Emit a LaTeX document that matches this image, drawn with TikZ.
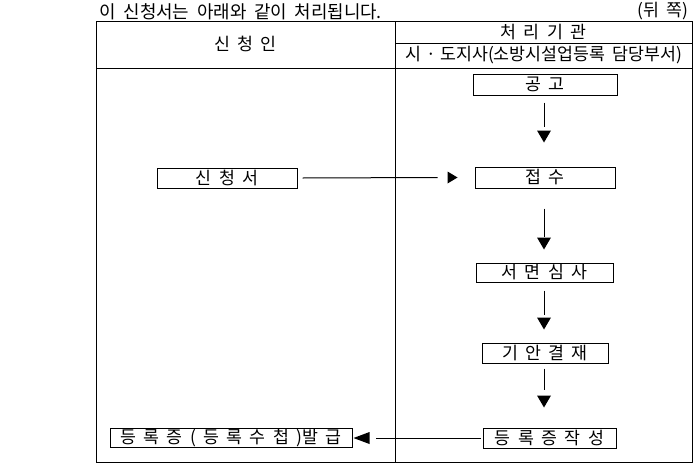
\documentclass[tikz,border=0pt]{standalone}
\usepackage{fontspec}
\setmainfont{Noto Sans CJK KR}[WordSpace=1.9]
\usetikzlibrary{calc}
\begin{document}
\begin{tikzpicture}[x=1pt,y=-1pt,line width=1pt,
  box/.style={draw,inner sep=0pt,minimum height=20pt,font=\fontsize{17.3}{19}\selectfont},
  txt/.style={inner sep=0pt,font=\fontsize{17.3}{19}\selectfont},
  conn/.style={line width=1pt},
  head/.style={fill=black,draw=none}]
\useasboundingbox (0,0) rectangle (695,463);
% table frame
\draw (96,21) rectangle (692,462);
\draw (96,68) -- (692,68);
\draw (395,43) -- (692,43);
\draw (395,21) -- (395,462);
% top texts
\node[txt,anchor=west,font=\fontsize{17.9}{19}\selectfont] (title) at (99,12) {이 신청서는 아래와 같이 처리됩니다.};
\node[txt,anchor=east,font=\fontsize{17.3}{19}\selectfont] (page) at (689,11) {(뒤 쪽)};
% headers
\node[txt] (h1) at (245.5,44) {신 청 인};
\node[txt] (h2) at (543.5,32) {처 리 기 관};
\node[txt] (h3) at (544,55) {시\hspace{4.5pt}·\hspace{4.5pt}도지사(소방시설업등록 담당부서)};
% boxes
\node[box,minimum width=144pt,minimum height=21pt] (gonggo) at (545,84.5) {공 고};
\node[box,minimum width=140pt,minimum height=21pt] (jeopsu) at (545,177.5) {접 수};
\node[box,minimum width=137pt,minimum height=19pt] (seomyeon) at (544.5,272.5) {서 면 심 사};
\node[box,minimum width=126pt] (gian) at (545,353) {기 안 결 재};
\node[box,minimum width=133pt] (jakseong) at (549.5,438) {등 록 증 작 성};
\node[box,minimum width=140pt] (sincheong) at (227,178) {신 청 서};
\node[box,minimum width=242pt,minimum height=19pt] (balgeup) at (231,438) {등 록 증 ( 등 록 수 첩 )발 급};
% vertical arrows
\draw[conn] ($(gonggo.south)+(-1,7)$) -- ($(jeopsu.north)+(-1,-40)$);
\fill[head] ($(jeopsu.north)+(-8,-36)$) -- ++(14,0) -- ++(-7,12) -- cycle;
\draw[conn] ($(jeopsu.south)+(-1,20)$) -- ($(seomyeon.north)+(-0.5,-26)$);
\fill[head] ($(seomyeon.north)+(-7.5,-25)$) -- ++(14,0) -- ++(-7,12) -- cycle;
\draw[conn] ($(seomyeon.south)+(-0.5,8)$) -- ($(gian.north)+(-1,-28)$);
\fill[head] ($(gian.north)+(-8,-25)$) -- ++(14,0) -- ++(-7,12) -- cycle;
\draw[conn] ($(gian.south)+(-1,5)$) -- ($(jakseong.north)+(-5.5,-38)$);
\fill[head] ($(jakseong.north)+(-12.5,-32)$) -- ++(14,0) -- ++(-7,12) -- cycle;
% horizontal arrows
\draw[conn] ($(sincheong.east)+(5,0)$) -- ($(jeopsu.west)+(-37,0)$);
\fill[head] ($(jeopsu.west)+(-27,-6)$) -- ++(0,12) -- ++(10,-6) -- cycle;
\draw[conn] ($(jakseong.west)+(-2,0)$) -- ($(balgeup.east)+(23,0)$);
\fill[head] ($(balgeup.east)+(17,-6)$) -- ++(0,12) -- ++(-16,-6) -- cycle;
\end{tikzpicture}
\end{document}
